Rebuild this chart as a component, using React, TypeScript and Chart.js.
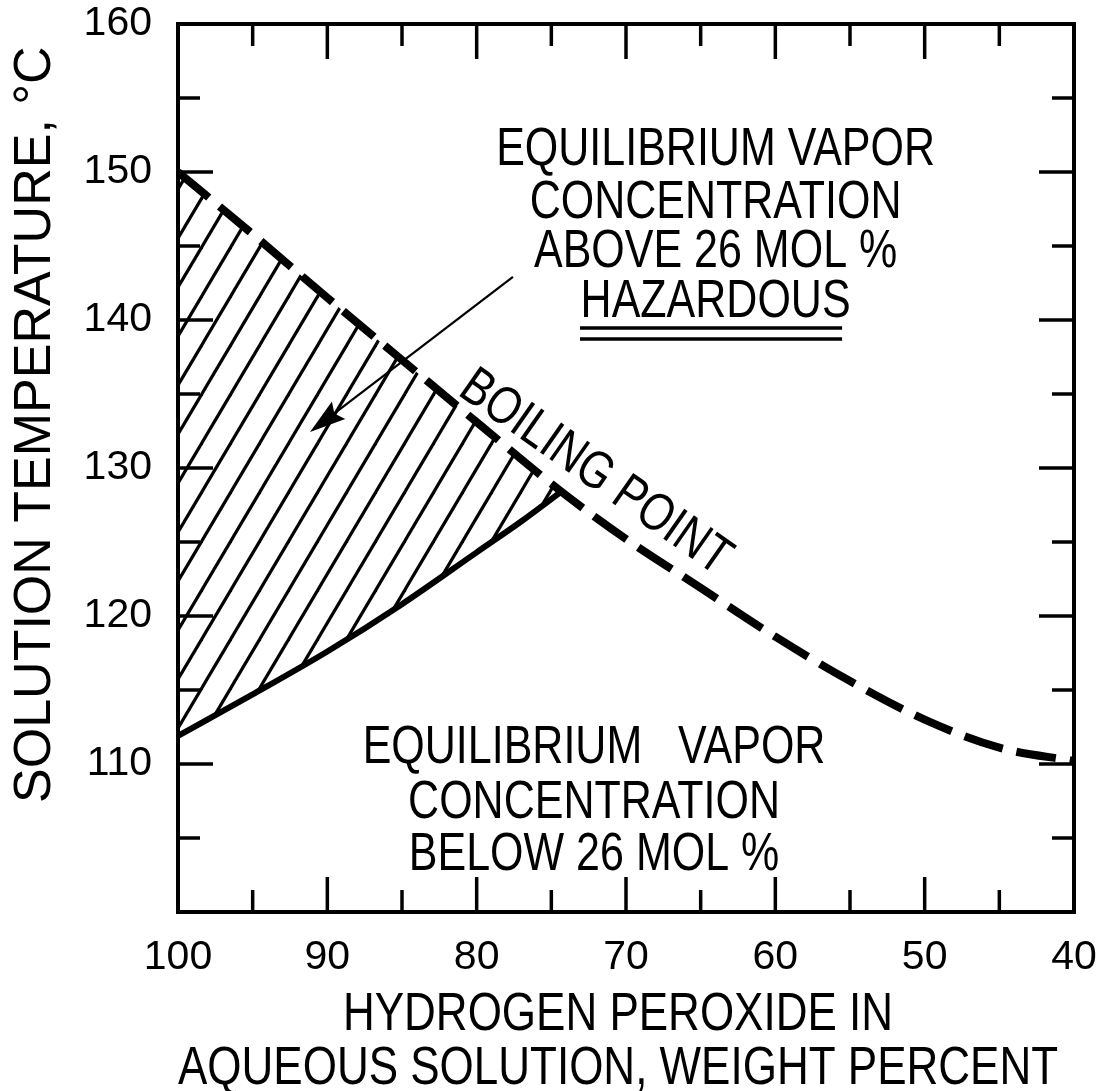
import React, { useEffect, useRef } from 'react';
import { Chart, registerables } from 'chart.js';

Chart.register(...registerables);

// ---- Data ----
const BOIL_X = [100, 95, 90, 85, 80, 74.2, 70, 65, 60, 55, 50, 45, 40];
const BOIL_Y = [150, 145.8, 141.5, 137.3, 133.1, 128.3, 125.2, 121.9, 118.6, 115.6, 113.0, 111.1, 110.2];

const LOWER_X = [100, 95, 90, 85, 80, 77, 74.2];
const LOWER_Y = [111.9, 114.7, 117.6, 120.8, 124.3, 126.4, 128.5];

const HATCH_TOP_X = [100, 95, 90, 85, 80, 74.2];
const HATCH_TOP_Y = [150, 145.8, 141.5, 137.3, 133.1, 128.3];

const X_TICKS = [100, 90, 80, 70, 60, 50, 40];
const Y_TICKS = [110, 120, 130, 140, 150, 160];
const X_MARKS = [95, 90, 85, 80, 75, 70, 65, 60, 55, 50, 45];
const Y_MARKS = [105, 110, 115, 120, 125, 130, 135, 140, 145, 150, 155];

const X_TITLE = ['HYDROGEN PEROXIDE IN', 'AQUEOUS SOLUTION, WEIGHT PERCENT'];
const Y_TITLE = '      SOLUTION TEMPERATURE, \u00B0C';

const UPPER_LINES = ['EQUILIBRIUM VAPOR', 'CONCENTRATION', 'ABOVE 26 MOL %', 'HAZARDOUS'];
const UPPER_X = 64.0;
const UPPER_BASE_Y = [150.47, 146.89, 143.58, 140.2];
const UNDERLINE_X = [73.08, 55.53];
const UNDERLINE_Y = [139.46, 138.72];

const LOWER_LINES = ['EQUILIBRIUM   VAPOR', 'CONCENTRATION', 'BELOW 26 MOL %'];
const LOWER_TEXT_X = 72.14;
const LOWER_BASE_Y = [110.07, 106.35, 102.84];

const BOIL_LABEL = 'BOILING POINT';
const BOIL_LABEL_POS = [71.9, 129.9];
const BOIL_LABEL_ANGLE = 35;

const ARROW_FROM = [77.57, 142.91];
const ARROW_TO = [91.16, 132.43];

const FONT = '"Liberation Sans", Arial, Helvetica, sans-serif';
const TEXT_SIZE = 43;
const TEXT_STRETCH = 1.24;

const XT_SIZE = 44;
const XT_LH = 45;
const XT_STRETCH = 1.2;
const XT_PAD = 4;
const XT_SHIFT = -8;

function makeHatch(): CanvasPattern | string {
  const w = 29;
  const h = 49;
  const tile = document.createElement('canvas');
  tile.width = w;
  tile.height = h;
  const c = tile.getContext('2d');
  if (!c) return 'rgba(0,0,0,0)';
  c.strokeStyle = '#000';
  c.lineWidth = 3.2;
  for (let k = -1; k <= 1; k++) {
    c.beginPath();
    c.moveTo(k * w - w, 2 * h);
    c.lineTo(k * w + 2 * w, -h);
    c.stroke();
  }
  const p = c.createPattern(tile, 'repeat');
  return p || '#000';
}

function stretchedText(ctx: CanvasRenderingContext2D, text: string, x: number, y: number) {
  ctx.save();
  ctx.translate(x, y);
  ctx.scale(1, TEXT_STRETCH);
  ctx.font = `${TEXT_SIZE}px ${FONT}`;
  ctx.textAlign = 'center';
  ctx.textBaseline = 'alphabetic';
  ctx.fillStyle = '#000';
  ctx.fillText(text, 0, 0);
  ctx.restore();
}

// stretch the native x-axis title vertically (the original lettering is tall)
function wrapXTitle(s: any) {
  if (s.__wrapped) return;
  s.__wrapped = true;
  const proto = Object.getPrototypeOf(s);
  s.drawTitle = function (...args: any[]) {
    const ctx = this.ctx as CanvasRenderingContext2D;
    const pivot = this.bottom - XT_LH - XT_PAD;
    ctx.save();
    ctx.translate(XT_SHIFT, pivot);
    ctx.scale(1, XT_STRETCH);
    ctx.translate(0, -pivot);
    proto.drawTitle.apply(this, args);
    ctx.restore();
  };
}

const decorPlugin = {
  id: 'decor',
  afterDatasetsDraw(chart: any) {
    const { ctx, chartArea: a, scales } = chart;
    const xs = scales.x;
    const ys = scales.y;
    ctx.save();
    ctx.strokeStyle = '#000';
    ctx.lineCap = 'butt';
    // frame
    ctx.lineWidth = 4;
    ctx.strokeRect(a.left, a.top, a.right - a.left, a.bottom - a.top);
    // inward tick marks
    ctx.lineWidth = 3.5;
    const seg = (x1: number, y1: number, x2: number, y2: number) => {
      ctx.beginPath();
      ctx.moveTo(x1, y1);
      ctx.lineTo(x2, y2);
      ctx.stroke();
    };
    for (const v of X_MARKS) {
      const px = xs.getPixelForValue(v);
      const len = v % 10 === 0 ? 35 : 22;
      seg(px, a.bottom, px, a.bottom - len);
      seg(px, a.top, px, a.top + len);
    }
    for (const v of Y_MARKS) {
      const py = ys.getPixelForValue(v);
      const len = v % 10 === 0 ? 35 : 22;
      seg(a.left, py, a.left + len, py);
      seg(a.right, py, a.right - len, py);
    }

    // upper text block
    const ux = xs.getPixelForValue(UPPER_X);
    UPPER_LINES.forEach((t, i) => stretchedText(ctx, t, ux, ys.getPixelForValue(UPPER_BASE_Y[i])));
    ctx.lineWidth = 3.5;
    for (const uy of UNDERLINE_Y) {
      const py = ys.getPixelForValue(uy);
      seg(xs.getPixelForValue(UNDERLINE_X[0]), py, xs.getPixelForValue(UNDERLINE_X[1]), py);
    }

    // lower text block
    const lx = xs.getPixelForValue(LOWER_TEXT_X);
    LOWER_LINES.forEach((t, i) => stretchedText(ctx, t, lx, ys.getPixelForValue(LOWER_BASE_Y[i])));

    // boiling point label
    ctx.save();
    ctx.translate(xs.getPixelForValue(BOIL_LABEL_POS[0]), ys.getPixelForValue(BOIL_LABEL_POS[1]));
    ctx.rotate((BOIL_LABEL_ANGLE * Math.PI) / 180);
    ctx.scale(1, TEXT_STRETCH);
    ctx.font = `${TEXT_SIZE}px ${FONT}`;
    ctx.textAlign = 'center';
    ctx.textBaseline = 'alphabetic';
    ctx.fillStyle = '#000';
    ctx.fillText(BOIL_LABEL, 0, (TEXT_SIZE * 0.716) / 2);
    ctx.restore();

    // arrow
    const x0 = xs.getPixelForValue(ARROW_FROM[0]);
    const y0 = ys.getPixelForValue(ARROW_FROM[1]);
    const x1 = xs.getPixelForValue(ARROW_TO[0]);
    const y1 = ys.getPixelForValue(ARROW_TO[1]);
    const ang = Math.atan2(y1 - y0, x1 - x0);
    const headLen = 36;
    const headHalf = 11;
    ctx.lineWidth = 2.2;
    const bx = x1 - headLen * Math.cos(ang);
    const by = y1 - headLen * Math.sin(ang);
    seg(x0, y0, x1 - 20 * Math.cos(ang), y1 - 20 * Math.sin(ang));
    ctx.beginPath();
    ctx.moveTo(x1, y1);
    ctx.lineTo(bx + headHalf * Math.sin(ang), by - headHalf * Math.cos(ang));
    ctx.lineTo(x1 - headLen * 0.85 * Math.cos(ang), y1 - headLen * 0.85 * Math.sin(ang));
    ctx.lineTo(bx - headHalf * Math.sin(ang), by + headHalf * Math.cos(ang));
    ctx.closePath();
    ctx.fillStyle = '#000';
    ctx.fill();

    ctx.restore();
  },
};

export default function App() {
  const ref = useRef<HTMLCanvasElement | null>(null);

  useEffect(() => {
    const canvas = ref.current;
    if (!canvas) return;
    const hatch = makeHatch();
    const toPts = (xa: number[], ya: number[]) => xa.map((x, i) => ({ x, y: ya[i] }));

    const chart = new Chart(canvas, {
      type: 'line',
      data: {
        datasets: [
          {
            label: 'Boiling point',
            data: toPts(BOIL_X, BOIL_Y),
            borderColor: '#000',
            borderWidth: 8,
            borderDash: [40, 14],
            borderCapStyle: 'butt',
            pointRadius: 0,
            cubicInterpolationMode: 'monotone',
            fill: false,
          },
          {
            label: 'Hazard limit',
            data: toPts(LOWER_X, LOWER_Y),
            borderColor: '#000',
            borderWidth: 6,
            pointRadius: 0,
            cubicInterpolationMode: 'monotone',
            fill: false,
          },
          {
            label: 'Hazardous region',
            data: toPts(HATCH_TOP_X, HATCH_TOP_Y),
            borderColor: 'rgba(0,0,0,0)',
            borderWidth: 0,
            pointRadius: 0,
            backgroundColor: hatch as any,
            fill: { target: 1 },
          },
        ],
      },
      options: {
        animation: false,
        responsive: false,
        maintainAspectRatio: false,
        devicePixelRatio: 1,
        layout: { padding: { top: 24, right: 30, left: 0, bottom: 0 } },
        plugins: {
          legend: { display: false },
          tooltip: { enabled: false },
        },
        scales: {
          x: {
            type: 'linear',
            reverse: true,
            min: 40,
            max: 100,
            position: 'bottom',
            afterBuildTicks: (s: any) => {
              s.ticks = X_TICKS.map((v) => ({ value: v }));
            },
            afterFit: (s: any) => {
              s.height = 179;
              s.paddingLeft = 0;
              s.paddingRight = 0;
              wrapXTitle(s);
            },
            grid: { display: false, drawTicks: false },
            border: { display: true, color: '#000', width: 4 },
            ticks: {
              color: '#000',
              font: { size: 41, family: FONT },
              padding: 21,
              maxRotation: 0,
              autoSkip: false,
            },
            title: {
              display: true,
              text: X_TITLE,
              color: '#000',
              font: { size: XT_SIZE, family: FONT, lineHeight: XT_LH / XT_SIZE },
              padding: { top: 0, bottom: XT_PAD },
            },
          },
          y: {
            type: 'linear',
            min: 100,
            max: 160,
            afterBuildTicks: (s: any) => {
              s.ticks = Y_TICKS.map((v) => ({ value: v }));
            },
            afterFit: (s: any) => {
              s.width = 178;
              s.paddingTop = 0;
              s.paddingBottom = 0;
            },
            grid: { display: false, drawTicks: false },
            border: { display: true, color: '#000', width: 4 },
            ticks: {
              color: '#000',
              font: { size: 41, family: FONT },
              padding: 26,
            },
            title: {
              display: true,
              text: Y_TITLE,
              color: '#000',
              font: { size: 52, family: FONT, lineHeight: 1.2 },
              padding: { top: 4, bottom: 0 },
            },
          },
        },
      },
      plugins: [decorPlugin],
    } as any);

    return () => chart.destroy();
  }, []);

  return (
    <div style={{ position: 'fixed', left: 0, top: 0, width: 1104, height: 1091, background: '#fff' }}>
      <canvas ref={ref} width={1104} height={1091} style={{ display: 'block', width: 1104, height: 1091 }} />
    </div>
  );
}
